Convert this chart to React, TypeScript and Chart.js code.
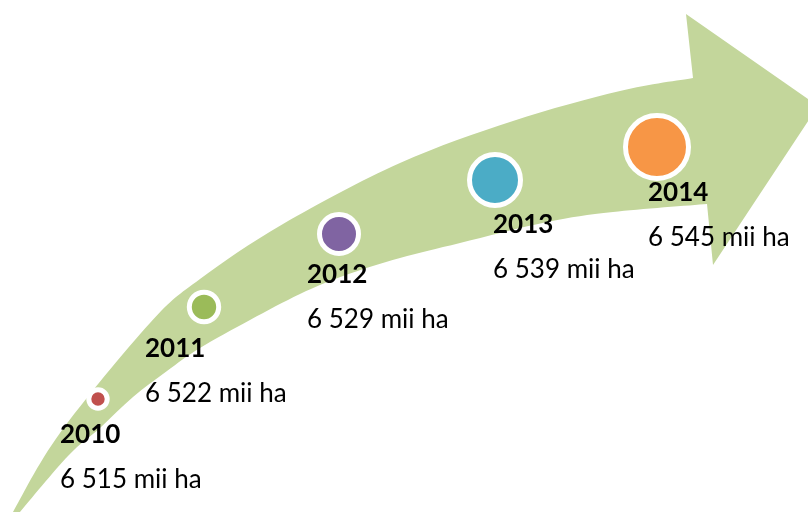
import React, { useEffect, useRef } from "react";
import { Chart, registerables } from "chart.js";

Chart.register(...registerables);

// ---- data ----
const years = ["2010", "2011", "2012", "2013", "2014"];
const areaValues = [6515, 6522, 6529, 6539, 6545];
const unitLabel = "mii ha";
const bubbleColors = ["#C0504D", "#9BBB59", "#8064A2", "#4BACC6", "#F79646"];

// ---- layout (in the hidden axes' units: 0..808 across, 0..512 down) ----
const bubbleX = [98, 204, 339, 495, 657];
const bubbleY = [399, 307, 234, 180, 147];
const bubbleRadius = [9.2, 14.7, 19.5, 25.5, 31.5];
const labelX = [60, 145, 307, 493, 648];
const labelY = [443, 357, 283, 233, 201];
const valueGap = 45;

const arrowUpper: number[][] = [
  [13, 512], [60, 433], [150, 323], [200, 279], [283, 224], [400, 163],
  [513, 121], [620, 91], [693, 78],
];
const arrowHead: number[][] = [[686, 14], [818, 106], [713, 265], [707, 204]];
const arrowLower: number[][] = [
  [707, 204], [613, 212], [547, 222], [460, 243], [400, 258], [343, 276],
  [300, 294], [250, 320], [200, 348], [167, 371], [133, 397], [100, 428],
  [68, 456], [20, 512],
];
const arrowColor = "#C3D69B";

const fmt = (v: number) => String(v).replace(/\B(?=(\d{3})+(?!\d))/g, " ");

function smoothThrough(ctx: CanvasRenderingContext2D, pts: number[][], first: boolean) {
  if (first) ctx.moveTo(pts[0][0], pts[0][1]);
  else ctx.lineTo(pts[0][0], pts[0][1]);
  for (let i = 0; i < pts.length - 1; i++) {
    const p0 = pts[Math.max(0, i - 1)];
    const p1 = pts[i];
    const p2 = pts[i + 1];
    const p3 = pts[Math.min(pts.length - 1, i + 2)];
    const c1x = p1[0] + (p2[0] - p0[0]) / 6;
    const c1y = p1[1] + (p2[1] - p0[1]) / 6;
    const c2x = p2[0] - (p3[0] - p1[0]) / 6;
    const c2y = p2[1] - (p3[1] - p1[1]) / 6;
    ctx.bezierCurveTo(c1x, c1y, c2x, c2y, p2[0], p2[1]);
  }
}

const arrowPlugin = {
  id: "arrowBackground",
  beforeDatasetsDraw(chart: any) {
    const { ctx, scales } = chart;
    const sx = scales.x, sy = scales.y;
    const map = (pts: number[][]) => pts.map((p) => [sx.getPixelForValue(p[0]), sy.getPixelForValue(p[1])]);
    ctx.save();
    ctx.beginPath();
    smoothThrough(ctx, map(arrowUpper), true);
    for (const p of map(arrowHead)) ctx.lineTo(p[0], p[1]);
    smoothThrough(ctx, map(arrowLower), false);
    ctx.closePath();
    ctx.fillStyle = arrowColor;
    ctx.fill();
    ctx.restore();
  },
};

const labelPlugin = {
  id: "yearLabels",
  afterDatasetsDraw(chart: any) {
    const { ctx, scales } = chart;
    const sx = scales.x, sy = scales.y;
    ctx.save();
    ctx.fillStyle = "#000000";
    ctx.textAlign = "left";
    ctx.textBaseline = "alphabetic";
    years.forEach((yr, i) => {
      const x = sx.getPixelForValue(labelX[i]);
      const y = sy.getPixelForValue(labelY[i]);
      ctx.font = "bold 26px Lato";
      ctx.fillText(yr, x, y);
      ctx.font = "26px Lato";
      ctx.fillText(`${fmt(areaValues[i])} ${unitLabel}`, x, sy.getPixelForValue(labelY[i] + valueGap));
    });
    ctx.restore();
  },
};

export default function App() {
  const ref = useRef<HTMLCanvasElement | null>(null);
  useEffect(() => {
    document.body.style.margin = "0";
    if (!ref.current) return;
    const chart = new Chart(ref.current, {
      type: "bubble",
      data: {
        datasets: [
          {
            label: "Suprafață",
            data: years.map((_, i) => ({ x: bubbleX[i], y: bubbleY[i], r: bubbleRadius[i] })),
            backgroundColor: bubbleColors,
            borderColor: "#FFFFFF",
            borderWidth: 5,
            clip: false as any,
          },
        ],
      },
      options: {
        responsive: false,
        maintainAspectRatio: false,
        animation: false,
        layout: { padding: 0, autoPadding: false },
        events: [],
        scales: {
          x: { type: "linear", min: 0, max: 808, display: false },
          y: { type: "linear", min: 0, max: 512, reverse: true, display: false },
        },
        plugins: { legend: { display: false }, tooltip: { enabled: false }, title: { display: false } },
      },
      plugins: [arrowPlugin, labelPlugin],
    });
    return () => chart.destroy();
  }, []);
  return (
    <div style={{ width: 808, height: 512, background: "#FFFFFF" }}>
      <canvas ref={ref} width={808} height={512} style={{ display: "block" }} />
    </div>
  );
}
